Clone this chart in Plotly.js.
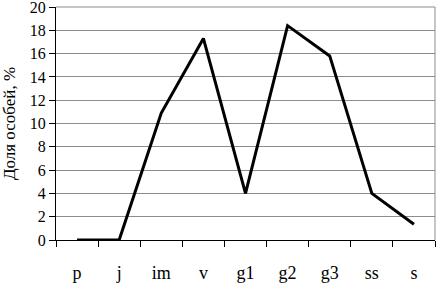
<!DOCTYPE html>
<html>
<head>
<meta charset="utf-8">
<script src="https://cdn.plot.ly/plotly-3.0.1.min.js"></script>
<style>
html,body{margin:0;padding:0;background:#fff;}
#chart{width:436px;height:284px;}
#warm{position:absolute;left:-2000px;top:0;font-family:"Liberation Serif";font-size:16px;white-space:nowrap;}
</style>
</head>
<body>
<div id="chart"></div>
<div id="warm" aria-hidden="true">Доля особей, % 0123456789 pjimvgs</div>
<script>
const categories = ["p", "j", "im", "v", "g1", "g2", "g3", "ss", "s"];
const shares = [0, 0, 10.9, 17.3, 4.0, 18.4, 15.8, 4.0, 1.35];
const yTickVals = [0, 2, 4, 6, 8, 10, 12, 14, 16, 18, 20];
const yTitle = "Доля особей, %";
const fam = "Liberation Serif";

const data = [{
  type: "scatter", mode: "lines", x: categories, y: shares,
  line: {color: "#000", width: 3}, hoverinfo: "skip"
}];
const layout = {
  width: 436, height: 284,
  margin: {l: 56, r: 1, t: 7, b: 44, pad: 0},
  paper_bgcolor: "#fff", plot_bgcolor: "#fff",
  showlegend: false,
  font: {family: fam, color: "#000"},
  xaxis: {
    type: "category", range: [-0.5, 8.5], showgrid: false,
    showline: true, linecolor: "#000", linewidth: 1,
    ticks: "outside", tickson: "boundaries", ticklen: 6, tickcolor: "#000", tickwidth: 1,
    tickfont: {size: 18, family: fam, color: "#000"},
    ticklabelstandoff: 16, zeroline: false, fixedrange: true
  },
  yaxis: {
    range: [0, 20], tickmode: "array", tickvals: yTickVals,
    showgrid: true, gridcolor: "#8c8c8c", gridwidth: 1,
    showline: true, linecolor: "#000", linewidth: 1,
    ticks: "outside", ticklen: 6, tickcolor: "#000",
    tickfont: {size: 16, family: fam, color: "#000"},
    ticklabeloverflow: "allow",
    zeroline: false, fixedrange: true,
    title: {text: yTitle, font: {size: 17, family: fam, color: "#000"}, standoff: 11}
  },
  shapes: [
    {type: "line", xref: "paper", yref: "paper", x0: 1, x1: 1, y0: 0, y1: 1, line: {color: "#8c8c8c", width: 1}},
    {type: "line", xref: "paper", yref: "paper", x0: 0, x1: 1, y0: 1, y1: 1, line: {color: "#8c8c8c", width: 1}}
  ]
};
const config = {displayModeBar: false, staticPlot: true};

Plotly.newPlot("chart", data, layout, config);
function refresh() { Plotly.react("chart", data, Object.assign({}, layout), config); }
setTimeout(refresh, 150);
setTimeout(refresh, 500);
</script>
</body>
</html>
